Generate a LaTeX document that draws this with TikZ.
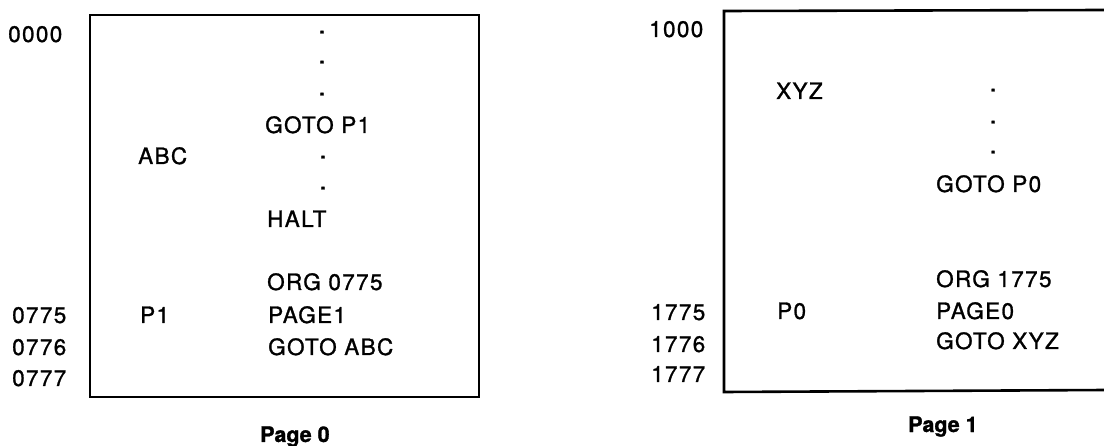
\documentclass[tikz,border=0pt]{standalone}
\usepackage{fontspec}
\setmainfont[LetterSpace=6,FakeBold=1.2]{TeX Gyre Heros}
\begin{document}
\begin{tikzpicture}[x=1pt,y=-1pt,
  txt/.style={anchor=base west,inner sep=0pt,font=\fontsize{22.5}{24}\selectfont},
  dotmark/.style={anchor=base,inner sep=0pt,font=\fontsize{26}{24}\selectfont},
  pagecap/.style={anchor=base west,inner sep=0pt,font=\fontsize{21.5}{24}\selectfont\bfseries\addfontfeatures{LetterSpace=0}},
  frame/.style={line width=2.6pt,line join=miter}]
\useasboundingbox (0,0) rectangle (1104,446);
% Page 0 box
\coordinate (b0tl) at (90,15);
\coordinate (b0br) at (479,397);
\draw[frame] (b0tl) rectangle (b0br);
% Page 1 box (open at the right)
\coordinate (b1tr) at (1106,10);
\coordinate (b1tl) at (724,11);
\coordinate (b1bl) at (724,392);
\coordinate (b1br) at (1106,390);
\draw[frame] (b1tr) -- (b1tl) -- (b1bl) -- (b1br);
% Page 0 contents
\node[txt] (a0000) at (8,42) {0000};
\node[dotmark] (d1) at (322,33.5) {.};
\node[dotmark] (d2) at (322,63.5) {.};
\node[dotmark] (d3) at (322,95.5) {.};
\node[txt] (gotop1) at (265,133) {GOTO P1};
\node[txt] (abc) at (138,164) {ABC};
\node[dotmark] (d4) at (323,158.5) {.};
\node[dotmark] (d5) at (323,189.5) {.};
\node[txt] (halt) at (267,227) {HALT};
\node[txt] (org0) at (267,290) {ORG 0775};
\node[txt] (a0775) at (12,323) {0775};
\node[txt] (p1) at (140,323) {P1};
\node[txt] (page1) at (268,323) {PAGE1};
\node[txt] (a0776) at (12,355) {0776};
\node[txt] (gotoabc) at (268,355) {GOTO ABC};
\node[txt] (a0777) at (12,386) {0777};
\node[pagecap] (cap0) at (260,442) {Page 0};
% Page 1 contents
\node[txt] (a1000) at (649,37) {1000};
\node[txt] (xyz) at (776,99) {XYZ};
\node[dotmark] (e1) at (993,91.5) {.};
\node[dotmark] (e2) at (993,123.5) {.};
\node[dotmark] (e3) at (993,153.5) {.};
\node[txt] (gotop0) at (936,192) {GOTO P0};
\node[txt] (org1) at (936,287) {ORG 1775};
\node[txt] (a1775) at (651,320) {1775};
\node[txt] (p0) at (777,319) {P0};
\node[txt] (page0) at (936,319) {PAGE0};
\node[txt] (a1776) at (651,352) {1776};
\node[txt] (gotoxyz) at (936,349) {GOTO XYZ};
\node[txt] (a1777) at (651,382) {1777};
\node[pagecap] (cap1) at (908,432) {Page 1};
\end{tikzpicture}
\end{document}
